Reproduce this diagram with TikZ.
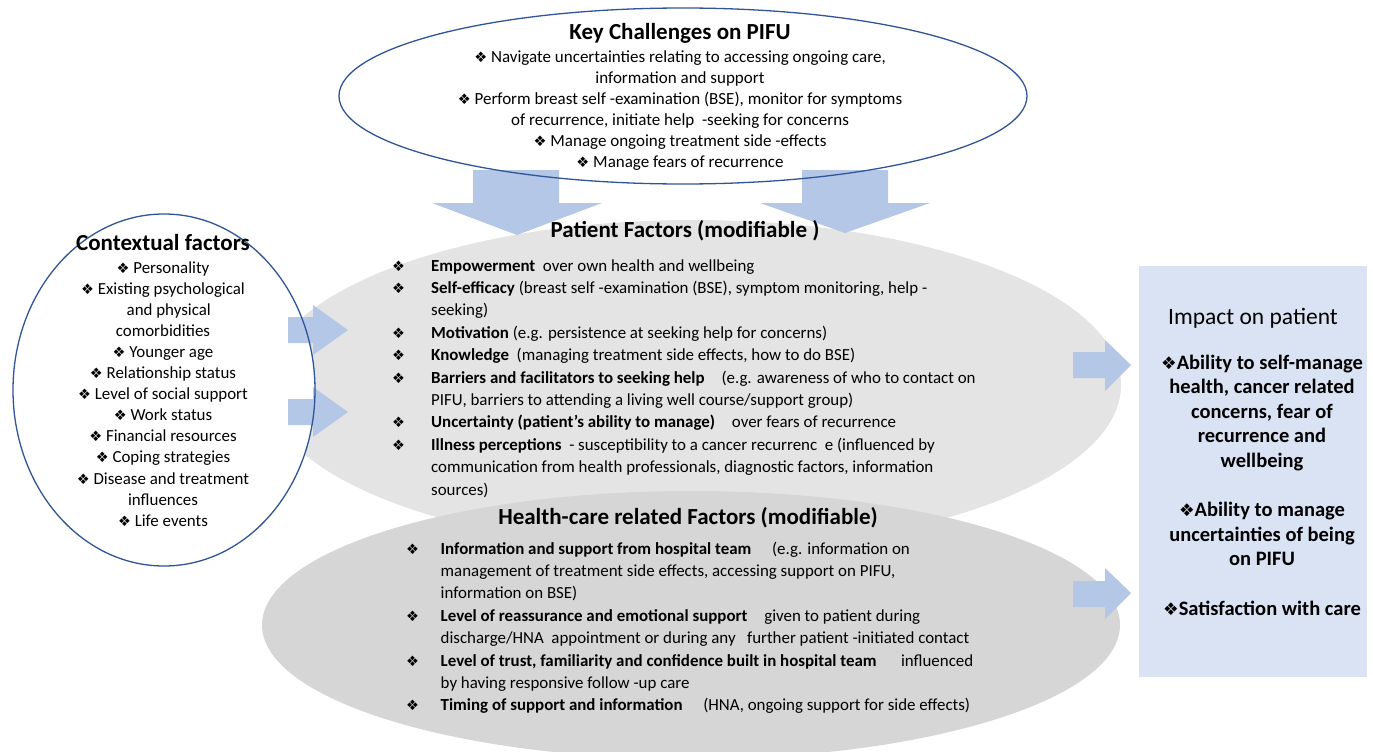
\documentclass[tikz,border=0pt]{standalone}
\usepackage{fontspec}
\setmainfont{Carlito}
\newfontfamily\symfont{DejaVu Sans}[Scale=0.85]
\usetikzlibrary{shapes.geometric}
\definecolor{arrowblue}{HTML}{B4C7E7}
\definecolor{edgeblue}{HTML}{2F5597}
\definecolor{patgray}{HTML}{E4E4E4}
\definecolor{hcgray}{HTML}{D6D6D6}
\definecolor{impactfill}{HTML}{DAE3F3}
\newcommand\dia{{\symfont ❖}}

\begin{document}
\begin{tikzpicture}[x=1pt,y=-1pt,
  oval/.style={ellipse, inner sep=0pt, outer sep=0pt},
  blueoval/.style={oval, draw=edgeblue, line width=1.3pt},
  blockarrow/.style={fill=arrowblue, draw=none},
  titletext/.style={font=\fontsize{23}{27}\selectfont\bfseries, anchor=base, inner sep=0pt},
  bodytext/.style={anchor=base, inner sep=0pt},
]
\useasboundingbox (0,0) rectangle (1373,752);

% grey factor ellipses
\node[oval, fill=patgray, minimum width=856pt, minimum height=330pt] (pat) at (693,385) {};
\node[oval, fill=hcgray, minimum width=858pt, minimum height=268pt] (hc) at (691,625) {};

% contextual factors ellipse (white fill, outline drawn later)
\node[oval, fill=white, minimum width=302pt, minimum height=352pt] (ctx) at (164,390) {};

% impact box
\node[fill=impactfill, minimum width=228pt, minimum height=411pt, inner sep=0pt, anchor=north west] (imp) at (1139,266) {};

% block arrows from the key challenges into the patient factors
\fill[blockarrow] (473,170) -- (559,170) -- (559,203) -- (602,203) -- (517,235) -- (432,203) -- (473,203) -- cycle;
\fill[blockarrow] (802,170) -- (888,170) -- (888,203) -- (930,203) -- (845,233) -- (760,203) -- (802,203) -- cycle;

% block arrows from the contextual factors
\fill[blockarrow] (288,317) -- (313,317) -- (313,305) -- (348,330) -- (313,355) -- (313,343) -- (288,343) -- cycle;
\fill[blockarrow] (288,399) -- (313,399) -- (313,387) -- (348,412) -- (313,437) -- (313,425) -- (288,425) -- cycle;

% block arrows into the impact box
\fill[blockarrow] (1073,352) -- (1105,352) -- (1105,340) -- (1131,365) -- (1105,391) -- (1105,378) -- (1073,378) -- cycle;
\fill[blockarrow] (1073,581) -- (1105,581) -- (1105,568) -- (1131,593) -- (1105,619) -- (1105,607) -- (1073,607) -- cycle;

% outlined ellipses
\node[blueoval, minimum width=688pt, minimum height=176pt] (kc) at (683,96) {};
\node[blueoval, minimum width=302pt, minimum height=352pt] (ctxedge) at (ctx.center) {};

% key challenges
\node[titletext] (kctitle) at (680,40) {Key Challenges on PIFU};
\node[bodytext, font=\fontsize{17}{21}\selectfont] (kcbody) at (680,63) {\begin{tabular}[t]{@{}c@{}}
\dia\ Navigate uncertainties relating to accessing ongoing care,\\
information and support\\
\dia\ Perform breast self -examination (BSE), monitor for symptoms\\
of recurrence, initiate help\ \ -seeking for concerns\\
\dia\ Manage ongoing treatment side -effects\\
\dia\ Manage fears of recurrence
\end{tabular}};

% contextual factors
\node[titletext] (ctxtitle) at (163,250) {Contextual factors};
\node[bodytext, font=\fontsize{16.9}{21.1}\selectfont] (ctxbody) at (163,273) {\begin{tabular}[t]{@{}c@{}}
\dia\ Personality\\
\dia\ Existing psychological\\
\ \ \ and physical\\
comorbidities\\
\dia\ Younger age\\
\dia\ Relationship status\\
\dia\ Level of social support\\
\dia\ Work status\\
\dia\ Financial resources\\
\dia\ Coping strategies\\
\dia\ Disease and treatment\\
influences\\
\dia\ Life events
\end{tabular}};

% patient factors
\node[titletext] (pattitle) at (685,237) {Patient Factors (modifiable )};
\node[bodytext, anchor=base west, font=\fontsize{16.9}{22.4}\selectfont] (patbody) at (392,271) {\begin{tabular}[t]{@{}p{39pt}@{}l@{}}
\dia & \textbf{Empowerment}\ \ over own health and wellbeing\\
\dia & \textbf{Self-efficacy} (breast self -examination (BSE), symptom monitoring, help -\\
 & seeking)\\
\dia & \textbf{Motivation} (e.g. persistence at seeking help for concerns)\\
\dia & \textbf{Knowledge}\ \ (managing treatment side effects, how to do BSE)\\
\dia & \textbf{Barriers and facilitators to seeking help}\quad (e.g. awareness of who to contact on\\
 & PIFU, barriers to attending a living well course/support group)\\
\dia & \textbf{Uncertainty (patient’s ability to manage)}\quad over fears of recurrence\\
\dia & \textbf{Illness perceptions}\ \ - susceptibility to a cancer recurrenc\ \ e (influenced by\\
 & communication from health professionals, diagnostic factors, information\\
 & sources)
\end{tabular}};

% health-care related factors
\node[titletext] (hctitle) at (688,524) {Health-care related Factors (modifiable)};
\node[bodytext, anchor=base west, font=\fontsize{16.9}{22.4}\selectfont] (hcbody) at (406,554) {\begin{tabular}[t]{@{}p{34.5pt}@{}l@{}}
\dia & \textbf{Information and support from hospital team}\quad\ (e.g. information on\\
 & management of treatment side effects, accessing support on PIFU,\\
 & information on BSE)\\
\dia & \textbf{Level of reassurance and emotional support}\quad given to patient during\\
 & discharge/HNA\ \ appointment or during any\ \ \ further patient -initiated contact\\
\dia & \textbf{Level of trust, familiarity and confidence built in hospital team}\quad\ \ influenced\\
 & by having responsive follow -up care\\
\dia & \textbf{Timing of support and information}\quad\ (HNA, ongoing support for side effects)
\end{tabular}};

% impact on patient
\node[bodytext, font=\fontsize{23.5}{27}\selectfont] (imptitle) at (1253,324) {Impact on patient};
\node[bodytext, font=\fontsize{20.5}{24.6}\selectfont\bfseries] (impbody) at (1262,369) {\begin{tabular}[t]{@{}c@{}}
\dia Ability to self-manage\\
health, cancer related\\
concerns, fear of\\
recurrence and\\
wellbeing\\[24.6pt]
\dia Ability to manage\\
uncertainties of being\\
on PIFU\\[24.6pt]
\dia Satisfaction with care
\end{tabular}};
\end{tikzpicture}
\end{document}
